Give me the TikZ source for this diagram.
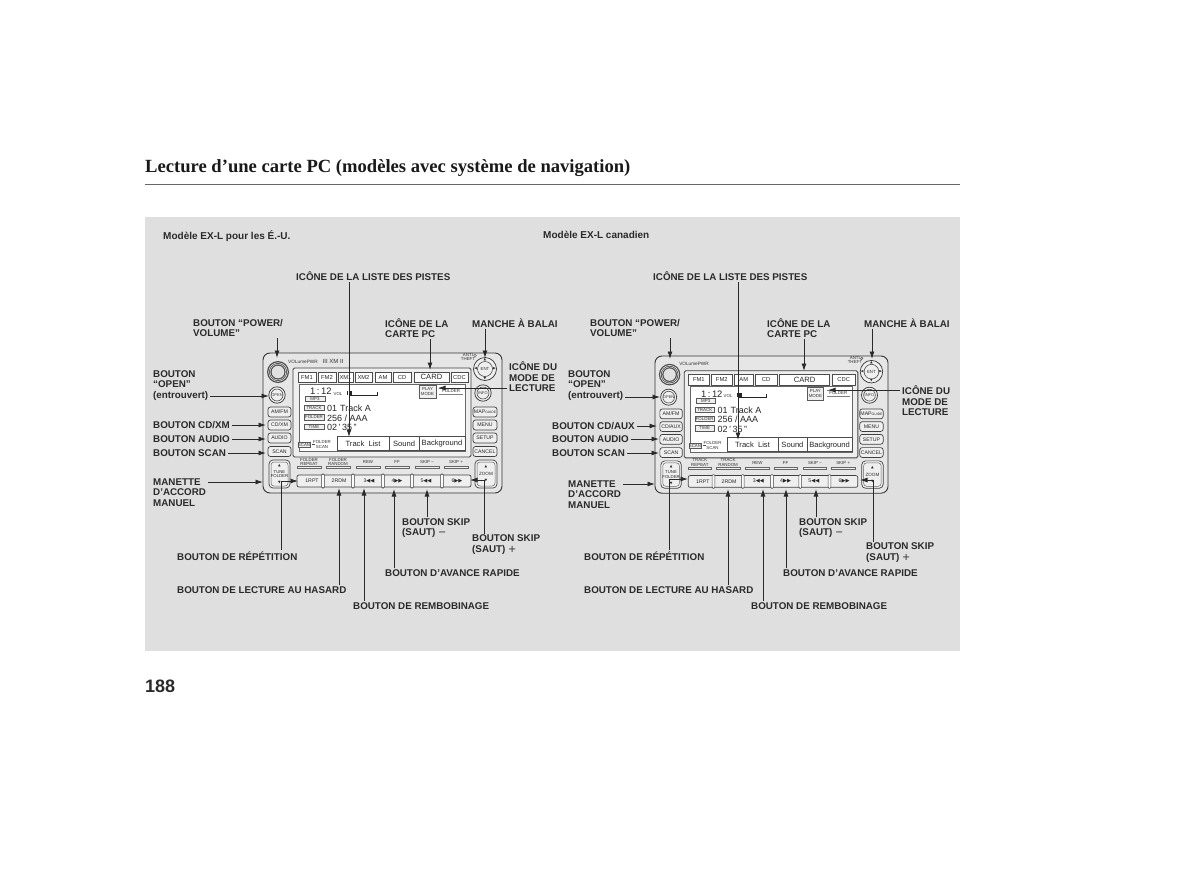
\documentclass[tikz,border=0pt]{standalone}
\usepackage{fontspec}
\setmainfont{Liberation Sans}
\setsansfont{Liberation Sans}
\newfontfamily\titlefont{Liberation Serif}
\newfontfamily\symfont{DejaVu Sans}
\usetikzlibrary{arrows.meta}
\definecolor{panel}{HTML}{DFDFDF}
\definecolor{ink}{HTML}{2A2A2A}
\definecolor{bodyc}{HTML}{E6E6E6}
\definecolor{keyc}{HTML}{EFEFEF}
\tikzset{
  lab/.style={font=\fontsize{9.8}{10.5}\selectfont\bfseries, text=ink, align=left, inner xsep=0pt, inner ysep=1pt, anchor=west},
  modele/.style={font=\fontsize{10}{10}\selectfont\bfseries, text=ink, inner sep=0pt, anchor=west},
  arr/.style={draw=ink, line width=.9pt, -{Latex[length=7.5pt,width=5pt]}},
  key/.style={draw=black!75, line width=.7pt, fill=keyc, rounded corners=2.5pt},
  tiny/.style={font=\fontsize{4.4}{4.8}\selectfont, text=black!80, align=center, inner sep=0pt},
  keytxt/.style={font=\fontsize{5.2}{5.6}\selectfont, text=black!85, align=center, inner sep=0pt},
  scr/.style={font=\fontsize{9}{10}\selectfont, text=black!85, inner sep=0pt, anchor=west},
  softk/.style={font=\fontsize{7.6}{8}\selectfont, text=black!85, inner sep=0pt},
  tabtxt/.style={font=\fontsize{5.8}{6}\selectfont, text=black!85, inner sep=0pt},
  sbox/.style={draw=black!65, line width=.6pt, fill=keyc},
  trg/.style={font=\symfont\fontsize{3.4}{4}\selectfont, text=black!85, inner sep=0pt},
}
\newcommand{\Rkey}[6]{%
  \draw[key] (#2,#3) rectangle (#4,#5);
  \node[keytxt] (#1) at ({(#2+#4)/2},{(#3+#5)/2}) {#6};}
\newcommand{\Rbox}[6]{%
  \draw[sbox] (#2,#3) rectangle (#4,#5);
  \node[tiny] (#1) at ({(#2+#4)/2},{(#3+#5)/2}) {#6};}
% #1 name prefix, #2 #3 top-left corner, #4 #5 scales
\newcommand{\Rradio}[5]{%
\begin{scope}[shift={(#2,#3)},xscale=#4,yscale=#5,shift={(-263,-353)}]
  \draw[draw=black!80,line width=.9pt,fill=bodyc,rounded corners=7pt] (263,353) rectangle (502,493);
  % volume knob
  \fill[black!70] (278,372) circle[radius=11];
  \draw[white,line width=.5pt] (278,372) circle[radius=9.4];
  \draw[white,line width=.4pt] (278,372) circle[radius=7.9];
  \fill[black!12] (278,372) circle[radius=6.3];
  \node[tiny,font=\fontsize{4.7}{5}\selectfont] (#1vol) at (303,361.5) {VOLumePWR};
  \RxmLogo{#1}
  % open
  \draw[black!80,line width=.7pt,fill=keyc] (277,395) circle[radius=8.2];
  \draw[black!70,line width=.6pt] (277,395) circle[radius=6];
  \node[tiny,font=\fontsize{4}{4}\selectfont] (#1open) at (277,395) {OPEN};
  % left keys
  \Rkey{#1am}{268}{407}{291}{417}{AM/FM}
  \Rkey{#1cd}{268}{420}{291}{430}{\RcdName}
  \Rkey{#1aud}{268}{433}{291}{443}{AUDIO}
  \Rkey{#1scan}{268}{446.5}{291}{456.5}{SCAN}
  % tune rocker
  \draw[key,rounded corners=4pt] (269,460) rectangle (290,488);
  \draw[black!60,line width=.5pt,rounded corners=3pt] (271,462) rectangle (288,486);
  \node[keytxt,font=\fontsize{4.3}{4.8}\selectfont] (#1tune) at (279.5,474) {TUNE\\FOLDER};
  \node[trg] (#1tuneup) at (279.5,466) {▲};
  \node[trg] (#1tunedn) at (279.5,483) {▼};
  % screen frame
  \draw[draw=black!75,line width=.9pt,fill=keyc,rounded corners=1.5pt] (293,368) rectangle (471,457);
  \foreach \a/\b/\t/\n in \Rtabs {
    \draw[draw=black!70,line width=.7pt,fill=white] (\a,372) rectangle (\b,382.5);
    \node[tabtxt] (#1tab\n) at ({(\a+\b)/2},377.2) {\t};
  }
  \node[tabtxt,font=\fontsize{7.6}{8}\selectfont] (#1tabcard) at \Rcardpos {CARD};
  % display
  \draw[draw=black!60,line width=.6pt,fill=white] (299,384) rectangle (465,451);
  \node[scr,font=\fontsize{9.4}{10}\selectfont] (#1time) at (310,391.5) {1\,:\,12};
  \node[tiny] (#1volb) at (338,394) {VOL};
  \draw[black!85,line width=.7pt] (347,391)--(347,395) (377,391.5)--(377,395)--(349,395);
  \fill[black!85] (349,391) rectangle (352,395);
  \Rbox{#1mp}{305}{396}{325}{401}{MP3}
  \Rbox{#1trk}{304}{405}{324}{410.5}{TRACK}
  \Rbox{#1fld}{304}{414.5}{324}{420}{FOLDER}
  \Rbox{#1tme}{304}{424}{324}{429.5}{TIME}
  \node[scr] (#1tA) at (327,408) {01\,\,Track A};
  \node[scr] (#1tB) at (327,418) {256 / AAA};
  \node[scr] (#1tC) at (327,427.5) {02\,'\,35\,"};
  \Rbox{#1pm}{419}{385}{436}{398}{PLAY\\MODE}
  \node[tiny] (#1pf) at (451,391) {FOLDER};
  \draw[black!50,line width=.4pt] (439,394)--(463,394) (439,388)--(463,388);
  \Rbox{#1sc}{298}{442}{310}{447}{SCAN}
  \draw[black!70,line width=.5pt] (312,444.5)--(315,444.5);
  \node[tiny] (#1fs) at (322,444.5) {FOLDER\\SCAN};
  % soft keys
  \draw[draw=black!70,line width=.7pt,fill=white] (337,436.5) rectangle (465,450.5);
  \draw[draw=black!70,line width=.7pt] (389,436.5)--(389,450.5) (419,436.5)--(419,450.5);
  \node[softk] (#1sA) at (363,444) {Track\ \ List};
  \node[softk] (#1sB) at (404,444) {Sound};
  \node[softk] (#1sC) at (442,444) {Background};
  % preset captions
  \foreach \x/\t/\n in \Rcaps {
    \node[tiny] (#1cap\n) at (\x,462) {\t};
    \draw[draw=black!60,line width=.4pt,fill=keyc] (\x-12,466) rectangle (\x+12,468.5);
  }
  % preset strip
  \draw[key,rounded corners=2pt] (297,475) rectangle (471,487);
  \foreach \x in {323,353,383,412,442}{
    \draw[draw=black!75,line width=.6pt,fill=white,rounded corners=1pt] (\x-1.4,474) rectangle (\x+1.4,488);
  }
  \foreach \x/\t/\n in {312/1RPT/a,339/2RDM/b,369/3{\symfont◀◀}/c,397/4{\symfont▶▶}/d,426/5{\symfont◀◀}/e,457/6{\symfont▶▶}/f}{
    \node[keytxt] (#1pre\n) at (\x,481) {\t};
  }
  % right side
  \draw[black!80,line width=.7pt,fill=keyc] (485,369) circle[radius=11.5];
  \draw[black!70,line width=.6pt] (485,369) circle[radius=7.5];
  \node[tiny] (#1ent) at (485,369) {ENT};
  \node[trg] (#1entu) at (485,359.6) {▲};
  \node[trg] (#1entd) at (485,378.4) {▼};
  \node[trg] (#1entl) at (475.6,369) {◀};
  \node[trg] (#1entr) at (494.4,369) {▶};
  \node[tiny] (#1anti) at (468,357) {ANTI\\THEFT};
  \draw[black!70,line width=.4pt] (475,355.5) circle[radius=1.3];
  \draw[black!80,line width=.7pt,fill=keyc] (483,393) circle[radius=8.2];
  \draw[black!70,line width=.6pt] (483,393) circle[radius=6];
  \node[tiny,font=\fontsize{4}{4}\selectfont] (#1info) at (483,393) {INFO};
  \Rkey{#1map}{473}{407}{497}{417}{MAP{\fontsize{3.4}{4}\selectfont GUIDE}}
  \Rkey{#1menu}{473}{420}{497}{430}{MENU}
  \Rkey{#1setup}{473}{433}{497}{443}{SETUP}
  \Rkey{#1cancel}{473}{446.5}{497}{456.5}{CANCEL}
  \draw[key,rounded corners=4pt] (475,460) rectangle (497,488);
  \draw[black!60,line width=.5pt,rounded corners=3pt] (477,462) rectangle (495,486);
  \node[keytxt,font=\fontsize{4.6}{5.2}\selectfont] (#1zoom) at (486,474) {ZOOM};
  \node[trg] (#1zup) at (486,467) {▲};
  \node[trg] (#1zdn) at (486,481) {▼};
\end{scope}}
\begin{document}
\begin{tikzpicture}[x=1pt,y=-1pt]
\useasboundingbox (0,0) rectangle (1200,892);
\fill[white] (0,0) rectangle (1200,892);
\fill[panel] (145,217) rectangle (960,651);
\node[font=\titlefont\fontsize{18.6}{22}\selectfont\bfseries,text=black!90,anchor=base west,inner sep=0pt] (title) at (145,172) {Lecture d’une carte PC (modèles avec système de navigation)};
\coordinate (ruleA) at (145,184);
\coordinate (ruleB) at (960,184);
\draw[black!60,line width=1pt] (ruleA) -- (ruleB);
\node[font=\fontsize{18}{20}\selectfont\bfseries,text=ink,anchor=base west,inner sep=0pt] (page) at (145,692) {188};
\node[modele] (lmod) at (163,236) {Modèle EX-L pour les É.-U.};
\node[modele] (rmod) at (543,235) {Modèle EX-L canadien};

% left radio
\def\RcdName{CD/XM}
\def\RxmLogo#1{\node[tiny,font=\fontsize{6}{6}\selectfont] (#1xm) at (333,361.5) {III XM II};}
\def\Rtabs{298/316/FM1/a,318/336/FM2/b,338/353/XM1/c,355/372/XM2/d,375/391/AM/e,393/411/CD/f,414/449//g,451/468/CDC/h}
\def\Rcardpos{(431.5,377.2)}
\def\Rcaps{309/FOLDER\\REPEAT/a,338/FOLDER\\RANDOM/b,368/REW/c,397/FF/d,427/SKIP –/e,456/SKIP +/f}
\Rradio{l}{263}{353}{1}{1}

% right radio
\def\RcdName{CD/AUX}
\def\RxmLogo#1{}
\def\Rtabs{297/319/FM1/a,321/342/FM2/b,344/364/AM/c,366/388/CD/d,391/442//e,445/468/CDC/f}
\def\Rcardpos{(416.5,377.2)}
\def\Rcaps{309/TRACK\\REPEAT/a,338/TRACK\\RANDOM/b,368/REW/c,397/FF/d,427/SKIP –/e,456/SKIP +/f}
\Rradio{r}{655}{356}{.975}{.98}

% labels, left
\node[lab] (a1) at (296,276.5) {ICÔNE DE LA LISTE DES PISTES};
\node[lab] (a2) at (193,328) {BOUTON “POWER/\\VOLUME”};
\node[lab] (a3) at (385,328) {ICÔNE DE LA\\CARTE PC};
\node[lab] (a4) at (472,323) {MANCHE À BALAI};
\node[lab] (a5) at (509,377) {ICÔNE DU\\MODE DE\\LECTURE};
\node[lab] (a6) at (153,385.5) {BOUTON\\“OPEN”\\(entrouvert)};
\node[lab] (a7) at (153,425) {BOUTON CD/XM};
\node[lab] (a8) at (153,439) {BOUTON AUDIO};
\node[lab] (a9) at (153,453) {BOUTON SCAN};
\node[lab] (a10) at (153,492.5) {MANETTE\\D’ACCORD\\MANUEL};
\node[lab] (a11) at (177,556) {BOUTON DE RÉPÉTITION};
\node[lab] (a12) at (177,590) {BOUTON DE LECTURE AU HASARD};
\node[lab] (a13) at (353,606) {BOUTON DE REMBOBINAGE};
\node[lab] (a14) at (385,573) {BOUTON D’AVANCE RAPIDE};
\node[lab] (a15) at (402,528) {BOUTON SKIP\\(SAUT) {\fontseries{m}\selectfont\symfont −}};
\node[lab] (a16) at (472,544.5) {BOUTON SKIP\\(SAUT) {\fontseries{m}\selectfont\symfont +}};

% labels, right
\node[lab] (b1) at (653,276.5) {ICÔNE DE LA LISTE DES PISTES};
\node[lab] (b2) at (590,328) {BOUTON “POWER/\\VOLUME”};
\node[lab] (b3) at (767,328) {ICÔNE DE LA\\CARTE PC};
\node[lab] (b4) at (864,323) {MANCHE À BALAI};
\node[lab] (b5) at (902,401) {ICÔNE DU\\MODE DE\\LECTURE};
\node[lab] (b6) at (568,385.5) {BOUTON\\“OPEN”\\(entrouvert)};
\node[lab] (b7) at (552,426) {BOUTON CD/AUX};
\node[lab] (b8) at (552,439) {BOUTON AUDIO};
\node[lab] (b9) at (552,453) {BOUTON SCAN};
\node[lab] (b10) at (568,494.5) {MANETTE\\D’ACCORD\\MANUEL};
\node[lab] (b11) at (584,556) {BOUTON DE RÉPÉTITION};
\node[lab] (b12) at (584,590) {BOUTON DE LECTURE AU HASARD};
\node[lab] (b13) at (751,606) {BOUTON DE REMBOBINAGE};
\node[lab] (b14) at (783,573) {BOUTON D’AVANCE RAPIDE};
\node[lab] (b15) at (799,528) {BOUTON SKIP\\(SAUT) {\fontseries{m}\selectfont\symfont −}};
\node[lab] (b16) at (866,552.5) {BOUTON SKIP\\(SAUT) {\fontseries{m}\selectfont\symfont +}};

% targets, left
\coordinate (ta1) at (349,437);
\coordinate (ta2) at (277,358);
\coordinate (ta3) at (430,370);
\coordinate (ta4) at (485,358);
\coordinate (ta5) at (438,388);
\coordinate (ta6) at (269,396);
\coordinate (ta7) at (266,425);
\coordinate (ta8) at (266,439);
\coordinate (ta9) at (266,453);
\coordinate (ta10) at (263,482);
\coordinate (ca11) at (281,481);
\coordinate (ta11) at (298,481);
\coordinate (ta12) at (339,488);
\coordinate (ta13) at (364,488);
\coordinate (ta14) at (394,489);
\coordinate (ta15) at (427,489);
\coordinate (ca16) at (484,480);
\coordinate (ta16) at (470,480);
% targets, right
\coordinate (tb1) at (738,440);
\coordinate (tb2) at (670,359);
\coordinate (tb3) at (804,371);
\coordinate (tb4) at (872,359);
\coordinate (tb5) at (828,390);
\coordinate (tb6) at (660,397);
\coordinate (tb7) at (657,426);
\coordinate (tb8) at (659,439);
\coordinate (tb9) at (659,453);
\coordinate (tb10) at (655,484);
\coordinate (cb11) at (669,479);
\coordinate (tb11) at (688,479);
\coordinate (tb12) at (728,489);
\coordinate (tb13) at (763,489);
\coordinate (tb14) at (786,489);
\coordinate (tb15) at (816,489);
\coordinate (cb16) at (873,480);
\coordinate (tb16) at (860,480);

\foreach \p in {a,b}{
  \draw[arr] (\p1.south -| t\p1) -- (t\p1);
  \draw[arr] (\p2.south -| t\p2) -- (t\p2);
  \draw[arr] (\p3.south -| t\p3) -- (t\p3);
  \draw[arr] (\p4.south -| t\p4) -- (t\p4);
  \draw[arr] ([xshift=-2pt]\p5.west |- t\p5) -- (t\p5);
  \draw[arr] ([xshift=2pt]\p6.east |- t\p6) -- (t\p6);
  \draw[arr] ([xshift=2pt]\p7.east) -- (t\p7);
  \draw[arr] ([xshift=2pt]\p8.east) -- (t\p8);
  \draw[arr] ([xshift=2pt]\p9.east) -- (t\p9);
  \draw[arr] ([xshift=2pt]\p10.east |- t\p10) -- (t\p10);
  \draw[arr] (\p11.north -| c\p11) -- (c\p11) -- (t\p11);
  \draw[arr] (\p12.north -| t\p12) -- (t\p12);
  \draw[arr] (\p13.north -| t\p13) -- (t\p13);
  \draw[arr] (\p14.north -| t\p14) -- (t\p14);
  \draw[arr] (\p15.north -| t\p15) -- (t\p15);
  \draw[arr] (\p16.north -| c\p16) -- (c\p16) -- (t\p16);
}
\end{tikzpicture}
\end{document}
